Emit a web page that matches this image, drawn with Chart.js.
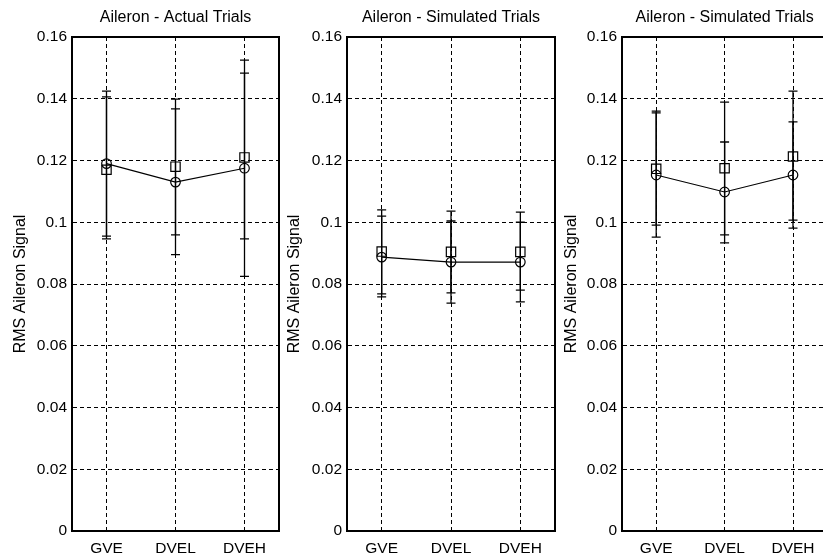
<!DOCTYPE html>
<html>
<head>
<meta charset="utf-8">
<script src="https://cdn.jsdelivr.net/npm/chart.js@4.4.1/dist/chart.umd.min.js"></script>
<style>
  html, body { margin: 0; padding: 0; background: #fff; overflow: hidden; }
  body { width: 823px; height: 557px; position: relative; }
  canvas { position: absolute; top: 0; }
</style>
</head>
<body>
<canvas id="p1" width="290" height="557" style="left:0px"></canvas>
<canvas id="p2" width="285" height="557" style="left:280px"></canvas>
<canvas id="p3" width="280" height="557" style="left:555px"></canvas>
<script>
// categories and y ticks
const categories = ['GVE', 'DVEL', 'DVEH'];
const yTicks = [0, 0.02, 0.04, 0.06, 0.08, 0.1, 0.12, 0.14, 0.16];

// Aileron - Actual Trials
const actualCircle     = [0.1190, 0.1130, 0.1175];
const actualCircleLow  = [0.0955, 0.0895, 0.0825];
const actualCircleHigh = [0.1425, 0.1367, 0.1525];
const actualSquare     = [0.1170, 0.1180, 0.1210];
const actualSquareLow  = [0.0946, 0.0959, 0.0946];
const actualSquareHigh = [0.1406, 0.1399, 0.1483];

// Aileron - Simulated Trials (middle)
const simACircle     = [0.0887, 0.0871, 0.0871];
const simACircleLow  = [0.0758, 0.0738, 0.0742];
const simACircleHigh = [0.1020, 0.1004, 0.1000];
const simASquare     = [0.0905, 0.0904, 0.0904];
const simASquareLow  = [0.0768, 0.0771, 0.0780];
const simASquareHigh = [0.1040, 0.1036, 0.1033];

// Aileron - Simulated Trials (right)
const simBCircle     = [0.1153, 0.1098, 0.1153];
const simBCircleLow  = [0.0952, 0.0933, 0.0981];
const simBCircleHigh = [0.1354, 0.1260, 0.1325];
const simBSquare     = [0.1173, 0.1175, 0.1213];
const simBSquareLow  = [0.0991, 0.0959, 0.1007];
const simBSquareHigh = [0.1360, 0.1389, 0.1425];

Chart.defaults.font.family = '"Liberation Sans", Arial, sans-serif';
Chart.defaults.font.size = 15.5;
Chart.defaults.color = '#000';

// draws the solid axes box around the plot
const boxPlugin = {
  id: 'box',
  afterDraw(chart) {
    const a = chart.chartArea;
    const ctx = chart.ctx;
    ctx.save();
    ctx.lineWidth = 2;
    ctx.strokeStyle = '#000';
    ctx.strokeRect(a.left, a.top, a.right - a.left, a.bottom - a.top);
    ctx.restore();
  }
};

function errorPoints(low, high) {
  const pts = [];
  categories.forEach((c, i) => {
    pts.push({x: c, y: low[i]}, {x: c, y: high[i]}, {x: c, y: null});
  });
  return pts;
}

function makePanel(id, title, circle, cLow, cHigh, square, sLow, sHigh, axisWidth, titlePad, rightPad) {
  const errStyle = {
    type: 'line',
    borderColor: '#000',
    borderWidth: 1.3,
    pointStyle: 'line',
    pointRadius: 4.5,
    pointBorderWidth: 1.3,
    pointBorderColor: '#000',
    spanGaps: false
  };
  new Chart(document.getElementById(id), {
    type: 'line',
    data: {
      labels: categories,
      datasets: [
        {
          data: circle,
          borderColor: '#000',
          borderWidth: 1.2,
          tension: 0,
          pointStyle: 'circle',
          pointRadius: 4.8,
          pointBorderWidth: 1.2,
          pointBorderColor: '#000',
          pointBackgroundColor: 'rgba(0,0,0,0)'
        },
        {
          data: square,
          showLine: false,
          pointStyle: 'rect',
          pointRadius: 6.6,
          pointBorderWidth: 1.2,
          pointBorderColor: '#000',
          pointBackgroundColor: 'rgba(0,0,0,0)'
        },
        Object.assign({data: errorPoints(cLow, cHigh)}, errStyle),
        Object.assign({data: errorPoints(sLow, sHigh)}, errStyle)
      ]
    },
    options: {
      responsive: false,
      animation: false,
      devicePixelRatio: 1,
      layout: {padding: {left: 0, right: rightPad, top: 0, bottom: 0}},
      plugins: {
        legend: {display: false},
        tooltip: {enabled: false},
        title: {
          display: true,
          text: title,
          fullSize: false,
          color: '#000',
          font: {size: 16, weight: 'normal'},
          padding: {top: 7.6, bottom: 10.2}
        }
      },
      scales: {
        x: {
          type: 'category',
          offset: true,
          grid: {color: '#000', lineWidth: 1, drawTicks: false},
          border: {display: true, color: '#000', width: 2, dash: [4, 3]},
          ticks: {padding: 8, color: '#000'},
          afterFit: s => { s.height = 26; }
        },
        y: {
          type: 'linear',
          min: 0,
          max: 0.16,
          grid: {color: '#000', lineWidth: 1, drawTicks: false},
          border: {display: true, color: '#000', width: 2, dash: [4, 3]},
          afterBuildTicks: s => { s.ticks = yTicks.map(v => ({value: v})); },
          ticks: {
            padding: 5,
            color: '#000',
            callback: v => String(+Number(v).toFixed(2))
          },
          title: {
            display: true,
            text: 'RMS Aileron Signal',
            color: '#000',
            font: {size: 16},
            padding: {top: titlePad, bottom: 0}
          },
          afterFit: s => { s.width = axisWidth; }
        }
      }
    },
    plugins: [boxPlugin]
  });
}

makePanel('p1', 'Aileron - Actual Trials',
  actualCircle, actualCircleLow, actualCircleHigh,
  actualSquare, actualSquareLow, actualSquareHigh, 72, 11.4, 11);
makePanel('p2', 'Aileron - Simulated Trials',
  simACircle, simACircleLow, simACircleHigh,
  simASquare, simASquareLow, simASquareHigh, 67, 5.4, 10);
makePanel('p3', 'Aileron - Simulated Trials',
  simBCircle, simBCircleLow, simBCircleHigh,
  simBSquare, simBSquareLow, simBSquareHigh, 67, 7.4, 6);
</script>
</body>
</html>
